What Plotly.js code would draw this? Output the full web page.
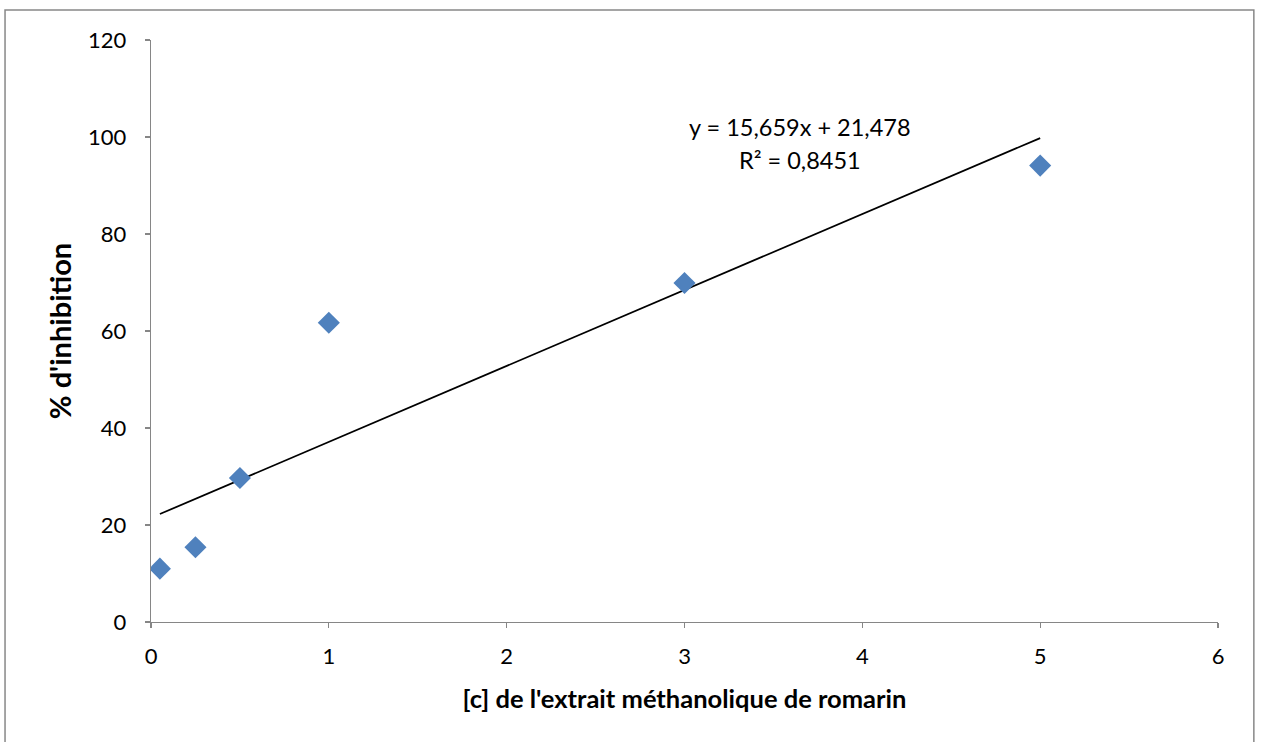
<!DOCTYPE html>
<html>
<head>
<meta charset="utf-8">
<script src="https://cdn.plot.ly/plotly-3.0.1.min.js"></script>
<style>
  html, body { margin: 0; padding: 0; background: #fff; }
  #chart { width: 1261px; height: 742px; }
</style>
</head>
<body>
<div id="chart"></div>
<script>
// Data
const concentrations = [0.05, 0.25, 0.5, 1, 3, 5];
const inhibition = [11.0, 15.4, 29.7, 61.7, 69.9, 94.1];

// Linear trendline as displayed on the chart
const slope = 15.659;
const intercept = 21.478;
const rSquared = 0.8451;
const equationText = 'y = 15,659x + 21,478';
const r2Text = 'R² = 0,8451';

const xTitle = "[c] de l'extrait méthanolique de romarin";
const yTitle = "% d'inhibition";

const xMin = Math.min(...concentrations);
const xMax = Math.max(...concentrations);
const trendX = [xMin, xMax];
const trendY = trendX.map(x => slope * x + intercept);

const FONT = 'Lato, "Open Sans", sans-serif';

const traces = [
  {
    x: trendX, y: trendY, type: 'scatter', mode: 'lines',
    line: { color: '#000000', width: 1.75 },
    hoverinfo: 'skip', showlegend: false
  },
  {
    x: concentrations, y: inhibition, type: 'scatter', mode: 'markers',
    marker: { symbol: 'diamond', size: 17, color: '#4F81BD', line: { width: 0 } },
    showlegend: false
  }
];

const layout = {
  width: 1261, height: 742,
  margin: { l: 151, r: 43, t: 40, b: 120 },
  paper_bgcolor: '#ffffff', plot_bgcolor: '#ffffff',
  font: { family: FONT, size: 22, color: '#000000' },
  showlegend: false,
  xaxis: {
    range: [0, 6], dtick: 1, tick0: 0,
    showgrid: false, zeroline: false,
    showline: true, linecolor: '#868686', linewidth: 1.3,
    ticks: 'outside', ticklen: 5, tickcolor: '#868686', tickwidth: 1.3,
    tickfont: { family: FONT, size: 22, color: '#000' },
    ticklabelstandoff: 9,
    title: { text: xTitle, font: { family: FONT, size: 25.5, weight: 700, color: '#000' }, standoff: 22 }
  },
  yaxis: {
    range: [0, 120], dtick: 20, tick0: 0,
    showgrid: false, zeroline: false,
    showline: true, linecolor: '#868686', linewidth: 1.3,
    ticks: 'outside', ticklen: 5, tickcolor: '#868686', tickwidth: 1.3,
    tickfont: { family: FONT, size: 22, color: '#000' },
    ticklabelstandoff: 14,
    title: { text: yTitle, font: { family: FONT, size: 29, weight: 700, color: '#000' }, standoff: 8 }
  },
  annotations: [
    { x: 3.65, y: 102.0, xref: 'x', yref: 'y', text: equationText, showarrow: false,
      font: { family: FONT, size: 23.5, color: '#000' }, xanchor: 'center', yanchor: 'middle' },
    { x: 3.65, y: 95.3, xref: 'x', yref: 'y', text: r2Text, showarrow: false,
      font: { family: FONT, size: 23.5, color: '#000' }, xanchor: 'center', yanchor: 'middle' }
  ],
  shapes: [
    { type: 'path', xref: 'paper', yref: 'paper',
      path: 'M -0.1368,-0.22 L -0.1368,1.0515 L 1.0336,1.0515 L 1.0336,-0.22',
      line: { color: '#888888', width: 1.5 } }
  ]
};

Plotly.newPlot('chart', traces, layout, { displayModeBar: false, staticPlot: true });
</script>
</body>
</html>
